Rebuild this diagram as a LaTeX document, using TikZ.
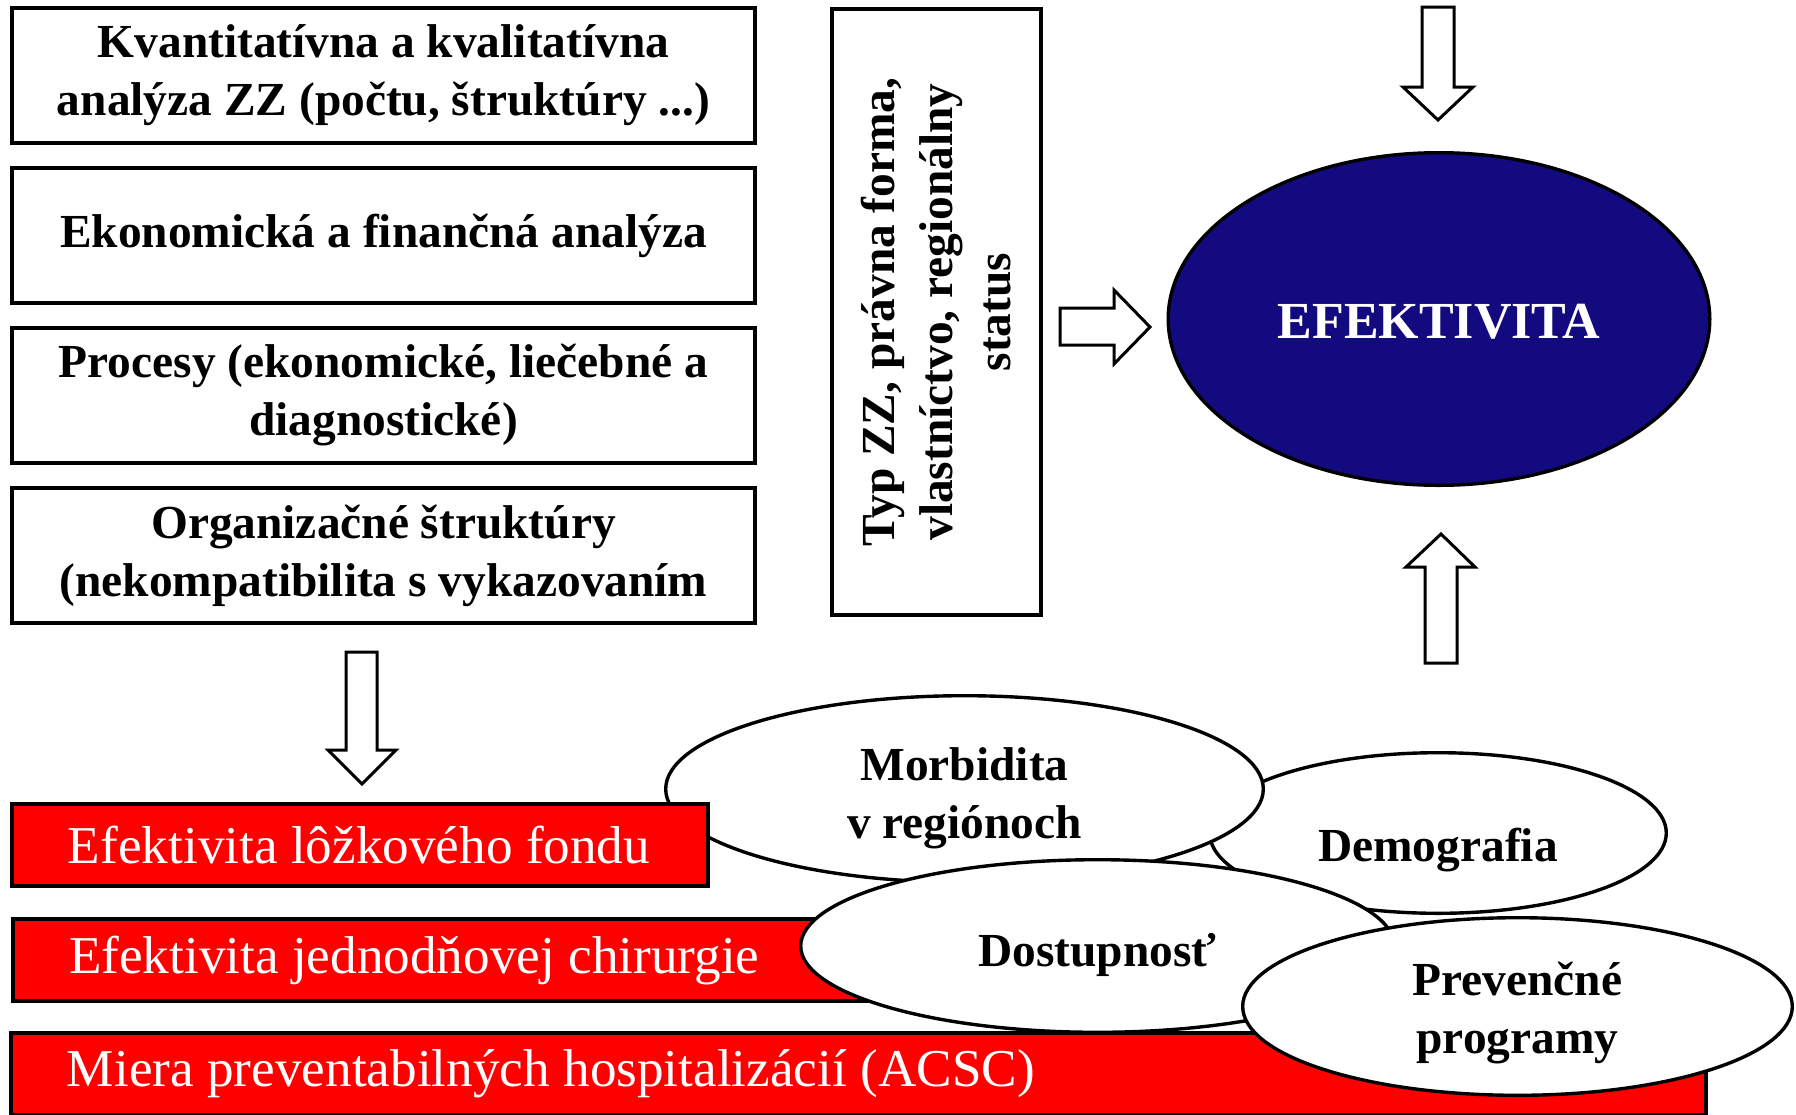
\documentclass[tikz,border=0pt]{standalone}
\usepackage{fontspec}
\setmainfont{Liberation Serif}
\usepackage{xcolor}
\usepackage{tikz}
\usetikzlibrary{positioning,shapes.geometric}
\definecolor{EffNavy}{HTML}{140A80}
\definecolor{EffRed}{HTML}{FF0000}
\tikzset{
  factorbox/.style={draw=black,line width=2.1pt,fill=white,align=center,minimum width=371.4pt,minimum height=67.4pt,inner sep=2pt,font=\fontsize{23.7}{29}\selectfont\bfseries},
  resultbox/.style={draw=black,line width=2pt,fill=EffRed,text=white,align=flush left,anchor=north west,minimum height=41pt,inner xsep=28pt,inner ysep=0pt,font=\fontsize{26.6}{32}\selectfont},
  factorellipse/.style={ellipse,draw=black,line width=1.7pt,fill=white,inner sep=0pt},
  ellipsetext/.style={align=center,inner sep=0pt,font=\fontsize{23.7}{29}\selectfont\bfseries},
  hollowarrow/.style={draw=black,line width=1.5pt,fill=white,line join=miter}
}
\begin{document}
\begin{tikzpicture}[x=0.5pt,y=-0.5pt,node distance=10.5pt]
\useasboundingbox (0,0) rectangle (1796,1115);
\fill[white] (0,0) rectangle (1796,1115);
% analyses on the left
\node[factorbox] (quant) at (383.5,75.5) {Kvantitatívna a kvalitatívna\\analýza ZZ (počtu, štruktúry ...)};
\node[factorbox,below=of quant] (econ) {Ekonomická a finančná analýza};
\node[factorbox,below=of econ] (proc) {Procesy (ekonomické, liečebné a\\diagnostické)};
\node[factorbox,below=of proc] (org) {Organizačné štruktúry\\(nekompatibilita s vykazovaním};
\node[factorbox,rotate=90,minimum width=302.8pt,minimum height=104.3pt] (typ) at (936.5,312) {Typ ZZ, právna forma,\\vlastníctvo, regionálny\\status};
% goal
\node[factorellipse,fill=EffNavy,minimum width=270.8pt,minimum height=166.3pt] (eff) at (1439,319) {};
\node[ellipsetext,text=white,font=\fontsize{26}{31}\selectfont\bfseries] (efftxt) at ([yshift=-1.5pt]eff.center) {EFEKTIVITA};
% block arrows
\draw[hollowarrow] (1060,308) -- (1114,308) -- (1114,290) -- (1150,327) -- (1114,364) -- (1114,345) -- (1060,345) -- cycle;
\draw[hollowarrow] (1422,7) -- (1454,7) -- (1454,87) -- (1473,87) -- (1438,120) -- (1403,87) -- (1422,87) -- cycle;
\draw[hollowarrow] (1425,663) -- (1425,567) -- (1406,567) -- (1441,534) -- (1475,567) -- (1457,567) -- (1457,663) -- cycle;
\draw[hollowarrow] (346,652) -- (377,652) -- (377,750) -- (396,750) -- (362,784) -- (328,750) -- (346,750) -- cycle;
% outside factors and indicators
\node[factorellipse,minimum width=228.3pt,minimum height=80.3pt] (demo) at (1438,833) {};
\node[ellipsetext] (demotxt) at ([yshift=-8.5pt]demo.center) {Demografia};
\node[factorellipse,minimum width=298.8pt,minimum height=93.3pt] (morb) at (964.5,789) {};
\node[ellipsetext] (morbtxt) at ([yshift=-4.5pt]morb.center) {Morbidita\\v regiónoch};
\node[resultbox,text width=292pt] (bed) at (10,802) {Efektivita lôžkového fondu};
\node[resultbox,text width=386.5pt] (surg) at (11,917) {Efektivita jednodňovej chirurgie};
\node[resultbox,text width=791.5pt] (acsc) at (9,1031) {Miera preventabilných hospitalizácií (ACSC)};
\node[factorellipse,minimum width=296.8pt,minimum height=86.3pt] (access) at (1097.5,946) {};
\node[ellipsetext] (accesstxt) at ([yshift=-4.5pt]access.center) {Dostupnosť};
\node[factorellipse,minimum width=274.8pt,minimum height=88.8pt] (prev) at (1517.5,1006.5) {};
\node[ellipsetext] (prevtxt) at ([yshift=-3.5pt]prev.center) {Prevenčné\\programy};
\end{tikzpicture}
\end{document}
